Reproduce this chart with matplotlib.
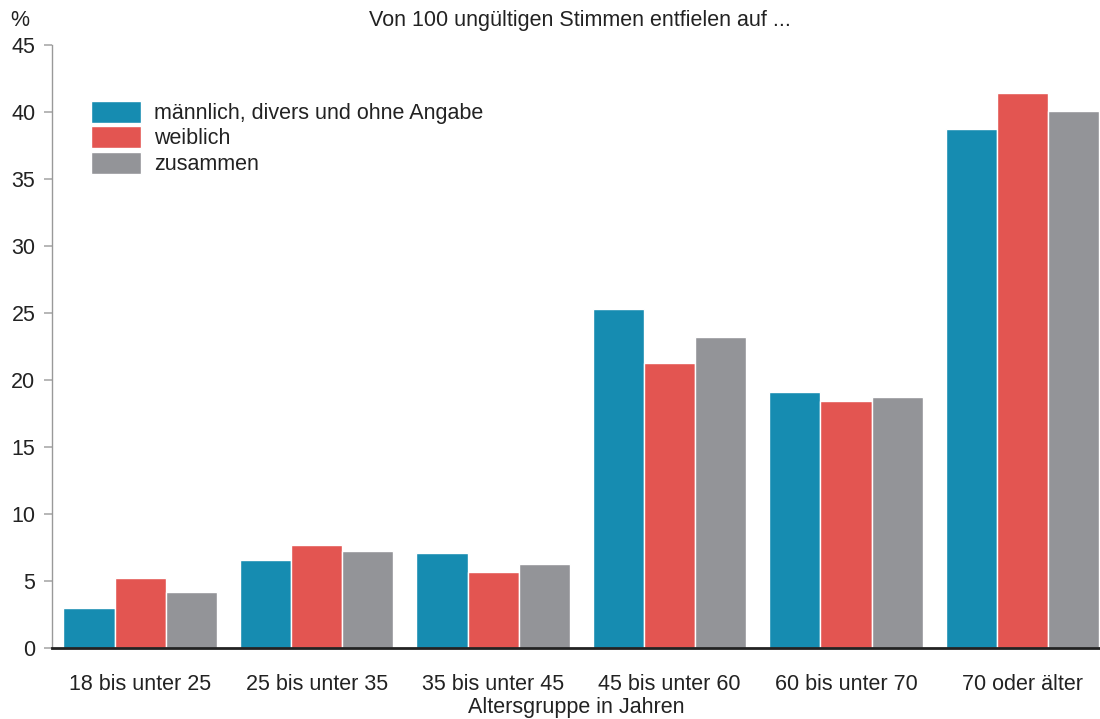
import numpy as np
import matplotlib
matplotlib.use("Agg")
import matplotlib.pyplot as plt

plt.rcParams['font.family'] = ['Liberation Sans', 'DejaVu Sans']

# age groups and shares of invalid votes (%)
groups = ["18 bis unter 25", "25 bis unter 35", "35 bis unter 45",
          "45 bis unter 60", "60 bis unter 70", "70 oder älter"]
maennlich = [3.0, 6.6, 7.1, 25.3, 19.1, 38.7]
weiblich = [5.2, 7.7, 5.7, 21.3, 18.4, 41.4]
zusammen = [4.2, 7.2, 6.3, 23.2, 18.7, 40.1]
series_names = ["männlich, divers und ohne Angabe", "weiblich", "zusammen"]
colors = ["#168cb1", "#e35551", "#939498"]

fs = 15.5
txt = "#222222"

fig = plt.figure(figsize=(11, 7.19), dpi=100)
ax = fig.add_axes([0.0473, 0.0988, 0.9527, 0.8386])

x = np.arange(len(groups))
w = 0.29
for i, (vals, name, col) in enumerate(zip([maennlich, weiblich, zusammen], series_names, colors)):
    ax.bar(x + (i - 1) * w, vals, width=w, color=col, edgecolor="white",
           linewidth=1, label=name, zorder=2)

ax.set_xlim(-0.5, 5.44)
ax.set_ylim(0, 45)
ax.set_yticks(range(0, 46, 5))
ax.set_xticks(x)
ax.set_xticklabels(groups)
ax.tick_params(axis="x", length=0, pad=19, labelsize=fs, labelcolor=txt)
ax.tick_params(axis="y", length=6, width=1.2, color="#aaaaaa", pad=6,
               labelsize=fs, labelcolor=txt)

for s in ["top", "right"]:
    ax.spines[s].set_visible(False)
ax.spines["left"].set_color("#999999")
ax.spines["left"].set_linewidth(1)
ax.spines["bottom"].set_color("#222222")
ax.spines["bottom"].set_linewidth(2)
ax.spines["bottom"].set_zorder(3)

ax.set_xlabel("Altersgruppe in Jahren", fontsize=fs, color=txt, labelpad=1)

fig.text(0.527, 0.972, "Von 100 ungültigen Stimmen entfielen auf ...",
         ha="center", va="center", fontsize=fs, color=txt)
fig.text(0.018, 0.972, "%", ha="center", va="center", fontsize=fs, color=txt)

leg = ax.legend(loc="upper left", bbox_to_anchor=(0.029, 0.922), frameon=False,
                fontsize=fs, handlelength=2.32, handleheight=1.2,
                labelspacing=0.1, handletextpad=0.62, borderaxespad=0)
for t in leg.get_texts():
    t.set_color(txt)

fig.savefig("out.png", dpi=100)
